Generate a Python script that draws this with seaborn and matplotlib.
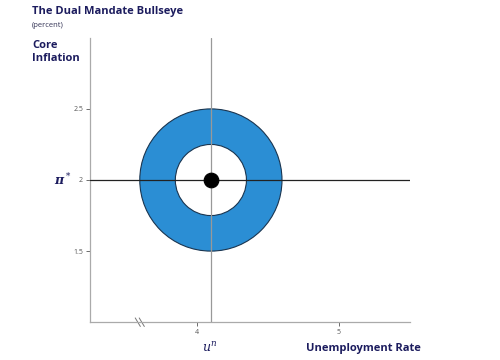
import matplotlib
matplotlib.use("Agg")
import matplotlib.pyplot as plt
from matplotlib.patches import Circle
import seaborn as sns
import pandas as pd

# target point and bands (percent)
u_star = [4.1]
pi_star = [2.0]
ring_radii = [0.5, 0.25]
x_ticks = [4, 5]
y_ticks = [1.5, 2, 2.5]
x_range = [3.25, 5.5]
y_range = [1.0, 3.0]

navy = "#1c1c5e"
blue = "#2b8ed4"

sns.set_style("white")
plt.rcParams["font.family"] = ["Open Sans", "DejaVu Sans"]
plt.rcParams["mathtext.fontset"] = "dejavuserif"
fig = plt.figure(figsize=(5, 3.6), dpi=100)
ax = fig.add_axes([0.18, 0.105, 0.64, 0.79])

# bullseye rings
ax.add_patch(Circle((u_star[0], pi_star[0]), ring_radii[0], facecolor=blue,
                    edgecolor="#1a3550", lw=0.8, zorder=2))
ax.add_patch(Circle((u_star[0], pi_star[0]), ring_radii[1], facecolor="white",
                    edgecolor="#1a3550", lw=0.8, zorder=3))

ax.axhline(pi_star[0], color="#222222", lw=0.9, zorder=4)
ax.axvline(u_star[0], color="#999999", lw=0.9, zorder=4)

df = pd.DataFrame({"u": u_star, "pi": pi_star})
sns.scatterplot(data=df, x="u", y="pi", ax=ax, color="black", s=110,
                edgecolor="black", zorder=5, legend=False)

ax.set_xlim(x_range)
ax.set_ylim(y_range)
ax.set_xticks(x_ticks)
ax.set_yticks(y_ticks)
ax.set_yticklabels(["1.5", "2", "2.5"])
ax.tick_params(axis="both", labelsize=5, colors="#555555", length=3,
               width=0.6, direction="out", pad=2)
ax.tick_params(axis="both", bottom=True, left=True)
ax.set_xlabel("")
ax.set_ylabel("")
for s in ["top", "right"]:
    ax.spines[s].set_visible(False)
for s in ["left", "bottom"]:
    ax.spines[s].set_color("#aaaaaa")
    ax.spines[s].set_linewidth(0.9)

# axis break marks
for dx in [-0.014, 0.014]:
    ax.plot([3.6 + dx - 0.018, 3.6 + dx + 0.018], [1.03, 0.97],
            color="#777777", lw=0.7, clip_on=False)

fig.text(0.064, 0.968, "The Dual Mandate Bullseye", fontsize=8, fontweight="bold",
         color=navy, va="center")
fig.text(0.064, 0.928, "(percent)", fontsize=5.5, color="#333355", va="center")
fig.text(0.064, 0.89, "Core\nInflation", fontsize=8, fontweight="bold",
         color=navy, va="top", linespacing=1.25)
fig.text(0.125, 0.5, r"$\boldsymbol{\pi}^*$", fontsize=9, color=navy, va="center", ha="center")
fig.text(0.42, 0.033, r"$u^n$", fontsize=9, color=navy, va="center", ha="center")
fig.text(0.612, 0.033, "Unemployment Rate", fontsize=8, fontweight="bold",
         color=navy, va="center")

fig.savefig("out.png", dpi=100)
